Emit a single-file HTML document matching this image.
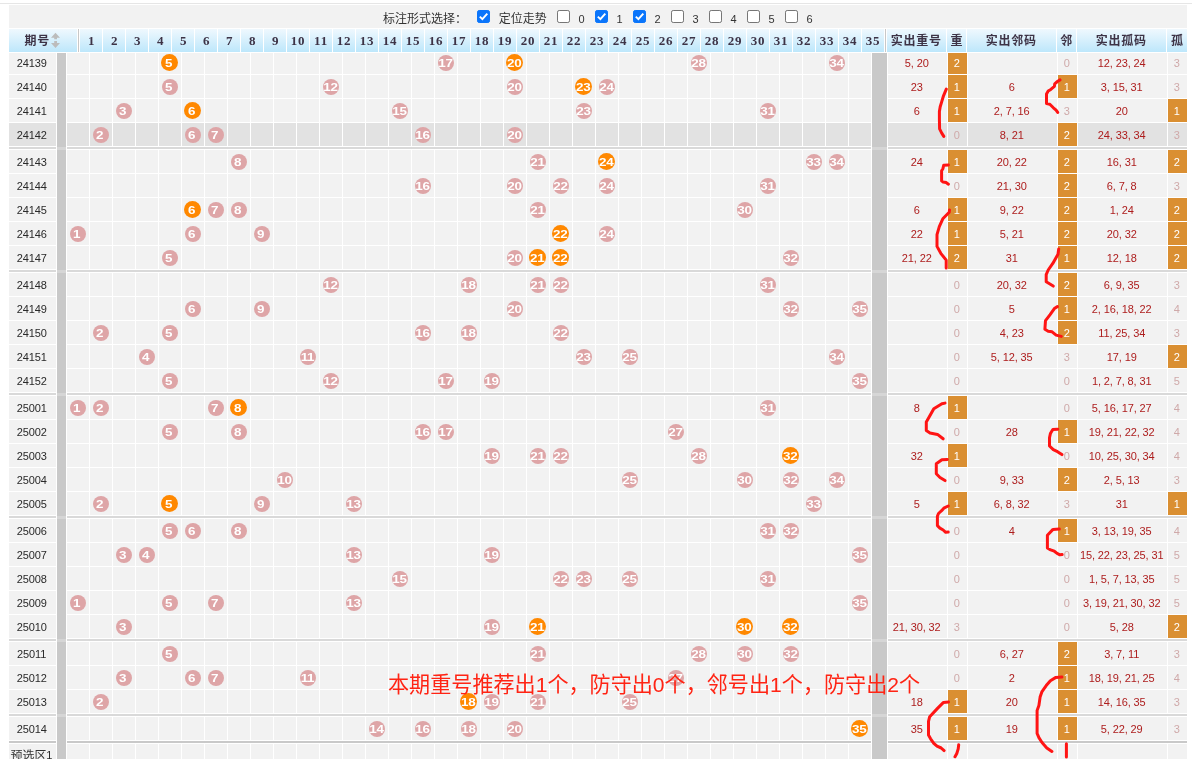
<!DOCTYPE html>
<html><head><meta charset="utf-8"><title>trend</title>
<style>
html,body{margin:0;padding:0;background:#fff;}
body{width:1192px;height:760px;overflow:hidden;position:relative;font-family:"Liberation Sans",sans-serif;}
#w{position:absolute;left:0;top:0;width:1192px;height:760px;overflow:hidden;will-change:transform;}
#w div,#w svg,#w span{position:absolute;}
.c{background:#f2f2f2;height:23px;}
.h .c{background:#e2e2e2;}
.r{left:0;width:1192px;height:23px;}
.t{font-size:11px;line-height:25px;text-align:center;color:#2a2a2a;letter-spacing:-0.12px;white-space:nowrap;box-sizing:border-box;padding-right:1.6px;overflow:hidden;}
.t i{display:inline-block;width:5.9px;text-align:left;font-style:normal;}
.rd{color:#ad1d1d;}
.lt{color:#cfa9a9;}
.o{background:#da8f32 !important;color:#fff;}
.b{width:16px;height:16px;border-radius:50%;background:#dea5a7;color:#fff;font-weight:bold;font-size:11px;line-height:17.6px;text-align:center;top:4px;letter-spacing:-0.3px;}
.b b{display:block;transform:translateX(-0.6px) scaleX(1.22);}
.b.g b{transform:translateX(-0.3px) scaleX(1.22);}
.b.s b{transform:translateX(-1.4px) scaleX(1.22);}
.b.g.s b{transform:translateX(-0.9px) scaleX(1.22);}
.b.g{width:17px;height:17px;background:#ff8800;line-height:18.6px;top:3px;}
.hd{top:29px;height:23px;background:linear-gradient(#eff8fe,#bde7fb);}
.hn{font-family:"Liberation Serif",serif;font-weight:bold;font-size:13px;line-height:23px;text-align:center;color:#3d3346;letter-spacing:0.8px;}
.bar{background:#c9c9c9;}
.cb{width:11px;height:11px;border:1px solid #767676;border-radius:2.2px;background:#fff;top:10px;}
.cb.k{background:#0a75fb;border-color:#0a75fb;}
.lb{font-size:11px;color:#333;top:13px;line-height:12px;}
</style></head><body><div id="w">

<div style="left:0;top:3px;width:1192px;height:1px;background:#e6e6e6"></div>
<div style="left:9px;top:5px;width:1178px;height:23px;background:#f2f2f2"></div>
<svg style="left:0;top:0" width="1192" height="30" viewBox="0 0 1192 30"><text x="383" y="23.1" font-size="12" fill="#333" font-family="&quot;Liberation Sans&quot;, &quot;Noto Sans CJK SC&quot;, sans-serif">标注形式选择：</text><text x="498.8" y="23.1" font-size="12" fill="#333" font-family="&quot;Liberation Sans&quot;, &quot;Noto Sans CJK SC&quot;, sans-serif">定位走势</text></svg>
<div class="cb k" style="left:477px"><svg style="left:0;top:0" width="11" height="11" viewBox="0 0 11 11"><path d="M1.8 5.6 L4.4 8.2 L9.3 2.6" fill="none" stroke="#fff" stroke-width="1.9"/></svg></div>
<div class="cb" style="left:557px"></div>
<span class="lb" style="left:578.5px">0</span>
<div class="cb k" style="left:595px"><svg style="left:0;top:0" width="11" height="11" viewBox="0 0 11 11"><path d="M1.8 5.6 L4.4 8.2 L9.3 2.6" fill="none" stroke="#fff" stroke-width="1.9"/></svg></div>
<span class="lb" style="left:616.5px">1</span>
<div class="cb k" style="left:633px"><svg style="left:0;top:0" width="11" height="11" viewBox="0 0 11 11"><path d="M1.8 5.6 L4.4 8.2 L9.3 2.6" fill="none" stroke="#fff" stroke-width="1.9"/></svg></div>
<span class="lb" style="left:654.5px">2</span>
<div class="cb" style="left:671px"></div>
<span class="lb" style="left:692.5px">3</span>
<div class="cb" style="left:709px"></div>
<span class="lb" style="left:730.5px">4</span>
<div class="cb" style="left:747px"></div>
<span class="lb" style="left:768.5px">5</span>
<div class="cb" style="left:785px"></div>
<span class="lb" style="left:806.5px">6</span>
<div class="bar" style="left:57px;top:53px;width:9px;height:707px"></div>
<div class="bar" style="left:872px;top:53px;width:15px;height:707px"></div>
<div style="left:9px;top:147px;width:47px;height:2px;background:#d9d9d9"></div>
<div style="left:67px;top:147px;width:804px;height:2px;background:#d9d9d9"></div>
<div style="left:888px;top:147px;width:299px;height:2px;background:#d9d9d9"></div>
<div style="left:57px;top:147px;width:9px;height:3px;background:#d6d6d6"></div>
<div style="left:872px;top:147px;width:15px;height:3px;background:#d6d6d6"></div>
<div style="left:9px;top:270px;width:47px;height:2px;background:#d9d9d9"></div>
<div style="left:67px;top:270px;width:804px;height:2px;background:#d9d9d9"></div>
<div style="left:888px;top:270px;width:299px;height:2px;background:#d9d9d9"></div>
<div style="left:57px;top:270px;width:9px;height:3px;background:#d6d6d6"></div>
<div style="left:872px;top:270px;width:15px;height:3px;background:#d6d6d6"></div>
<div style="left:9px;top:393px;width:47px;height:2px;background:#d9d9d9"></div>
<div style="left:67px;top:393px;width:804px;height:2px;background:#d9d9d9"></div>
<div style="left:888px;top:393px;width:299px;height:2px;background:#d9d9d9"></div>
<div style="left:57px;top:393px;width:9px;height:3px;background:#d6d6d6"></div>
<div style="left:872px;top:393px;width:15px;height:3px;background:#d6d6d6"></div>
<div style="left:9px;top:516px;width:47px;height:2px;background:#d9d9d9"></div>
<div style="left:67px;top:516px;width:804px;height:2px;background:#d9d9d9"></div>
<div style="left:888px;top:516px;width:299px;height:2px;background:#d9d9d9"></div>
<div style="left:57px;top:516px;width:9px;height:3px;background:#d6d6d6"></div>
<div style="left:872px;top:516px;width:15px;height:3px;background:#d6d6d6"></div>
<div style="left:9px;top:639px;width:47px;height:2px;background:#d9d9d9"></div>
<div style="left:67px;top:639px;width:804px;height:2px;background:#d9d9d9"></div>
<div style="left:888px;top:639px;width:299px;height:2px;background:#d9d9d9"></div>
<div style="left:57px;top:639px;width:9px;height:3px;background:#d6d6d6"></div>
<div style="left:872px;top:639px;width:15px;height:3px;background:#d6d6d6"></div>
<div style="left:9px;top:714px;width:47px;height:2px;background:#d9d9d9"></div>
<div style="left:67px;top:714px;width:804px;height:2px;background:#d9d9d9"></div>
<div style="left:888px;top:714px;width:299px;height:2px;background:#d9d9d9"></div>
<div style="left:57px;top:714px;width:9px;height:3px;background:#d6d6d6"></div>
<div style="left:872px;top:714px;width:15px;height:3px;background:#d6d6d6"></div>
<div style="left:9px;top:741px;width:47px;height:2px;background:#c9c9c9"></div>
<div style="left:67px;top:741px;width:804px;height:2px;background:#c9c9c9"></div>
<div style="left:888px;top:741px;width:299px;height:2px;background:#c9c9c9"></div>
<div class="r" style="top:51px">
<div class="c t" style="left:9px;width:47px">24139</div>
<div class="c" style="left:67px;width:22px"></div>
<div class="c" style="left:90px;width:22px"></div>
<div class="c" style="left:113px;width:22px"></div>
<div class="c" style="left:136px;width:22px"></div>
<div class="c" style="left:159px;width:22px"><div class="b g s" style="left:2px"><b>5</b></div></div>
<div class="c" style="left:182px;width:22px"></div>
<div class="c" style="left:205px;width:22px"></div>
<div class="c" style="left:228px;width:22px"></div>
<div class="c" style="left:251px;width:22px"></div>
<div class="c" style="left:274px;width:22px"></div>
<div class="c" style="left:297px;width:22px"></div>
<div class="c" style="left:320px;width:22px"></div>
<div class="c" style="left:343px;width:22px"></div>
<div class="c" style="left:366px;width:22px"></div>
<div class="c" style="left:389px;width:22px"></div>
<div class="c" style="left:412px;width:22px"></div>
<div class="c" style="left:435px;width:22px"><div class="b" style="left:3px"><b>17</b></div></div>
<div class="c" style="left:458px;width:22px"></div>
<div class="c" style="left:481px;width:22px"></div>
<div class="c" style="left:504px;width:22px"><div class="b g" style="left:2px"><b>20</b></div></div>
<div class="c" style="left:527px;width:22px"></div>
<div class="c" style="left:550px;width:22px"></div>
<div class="c" style="left:573px;width:22px"></div>
<div class="c" style="left:596px;width:22px"></div>
<div class="c" style="left:619px;width:22px"></div>
<div class="c" style="left:642px;width:22px"></div>
<div class="c" style="left:665px;width:22px"></div>
<div class="c" style="left:688px;width:22px"><div class="b" style="left:3px"><b>28</b></div></div>
<div class="c" style="left:711px;width:22px"></div>
<div class="c" style="left:734px;width:22px"></div>
<div class="c" style="left:757px;width:22px"></div>
<div class="c" style="left:780px;width:22px"></div>
<div class="c" style="left:803px;width:22px"></div>
<div class="c" style="left:826px;width:22px"><div class="b" style="left:3px"><b>34</b></div></div>
<div class="c" style="left:849px;width:22px"></div>
<div class="c t rd" style="left:888px;width:59px">5<i>,</i>20</div>
<div class="c t o" style="left:948px;width:19px">2</div>
<div class="c t rd" style="left:968px;width:89px"></div>
<div class="c t lt" style="left:1058px;width:19px">0</div>
<div class="c t rd" style="left:1078px;width:89px">12<i>,</i>23<i>,</i>24</div>
<div class="c t lt" style="left:1168px;width:19px">3</div>
</div>
<div class="r" style="top:75px">
<div class="c t" style="left:9px;width:47px">24140</div>
<div class="c" style="left:67px;width:22px"></div>
<div class="c" style="left:90px;width:22px"></div>
<div class="c" style="left:113px;width:22px"></div>
<div class="c" style="left:136px;width:22px"></div>
<div class="c" style="left:159px;width:22px"><div class="b s" style="left:3px"><b>5</b></div></div>
<div class="c" style="left:182px;width:22px"></div>
<div class="c" style="left:205px;width:22px"></div>
<div class="c" style="left:228px;width:22px"></div>
<div class="c" style="left:251px;width:22px"></div>
<div class="c" style="left:274px;width:22px"></div>
<div class="c" style="left:297px;width:22px"></div>
<div class="c" style="left:320px;width:22px"><div class="b" style="left:3px"><b>12</b></div></div>
<div class="c" style="left:343px;width:22px"></div>
<div class="c" style="left:366px;width:22px"></div>
<div class="c" style="left:389px;width:22px"></div>
<div class="c" style="left:412px;width:22px"></div>
<div class="c" style="left:435px;width:22px"></div>
<div class="c" style="left:458px;width:22px"></div>
<div class="c" style="left:481px;width:22px"></div>
<div class="c" style="left:504px;width:22px"><div class="b" style="left:3px"><b>20</b></div></div>
<div class="c" style="left:527px;width:22px"></div>
<div class="c" style="left:550px;width:22px"></div>
<div class="c" style="left:573px;width:22px"><div class="b g" style="left:2px"><b>23</b></div></div>
<div class="c" style="left:596px;width:22px"><div class="b" style="left:3px"><b>24</b></div></div>
<div class="c" style="left:619px;width:22px"></div>
<div class="c" style="left:642px;width:22px"></div>
<div class="c" style="left:665px;width:22px"></div>
<div class="c" style="left:688px;width:22px"></div>
<div class="c" style="left:711px;width:22px"></div>
<div class="c" style="left:734px;width:22px"></div>
<div class="c" style="left:757px;width:22px"></div>
<div class="c" style="left:780px;width:22px"></div>
<div class="c" style="left:803px;width:22px"></div>
<div class="c" style="left:826px;width:22px"></div>
<div class="c" style="left:849px;width:22px"></div>
<div class="c t rd" style="left:888px;width:59px">23</div>
<div class="c t o" style="left:948px;width:19px">1</div>
<div class="c t rd" style="left:968px;width:89px">6</div>
<div class="c t o" style="left:1058px;width:19px">1</div>
<div class="c t rd" style="left:1078px;width:89px">3<i>,</i>15<i>,</i>31</div>
<div class="c t lt" style="left:1168px;width:19px">3</div>
</div>
<div class="r" style="top:99px">
<div class="c t" style="left:9px;width:47px">24141</div>
<div class="c" style="left:67px;width:22px"></div>
<div class="c" style="left:90px;width:22px"></div>
<div class="c" style="left:113px;width:22px"><div class="b s" style="left:3px"><b>3</b></div></div>
<div class="c" style="left:136px;width:22px"></div>
<div class="c" style="left:159px;width:22px"></div>
<div class="c" style="left:182px;width:22px"><div class="b g s" style="left:2px"><b>6</b></div></div>
<div class="c" style="left:205px;width:22px"></div>
<div class="c" style="left:228px;width:22px"></div>
<div class="c" style="left:251px;width:22px"></div>
<div class="c" style="left:274px;width:22px"></div>
<div class="c" style="left:297px;width:22px"></div>
<div class="c" style="left:320px;width:22px"></div>
<div class="c" style="left:343px;width:22px"></div>
<div class="c" style="left:366px;width:22px"></div>
<div class="c" style="left:389px;width:22px"><div class="b" style="left:3px"><b>15</b></div></div>
<div class="c" style="left:412px;width:22px"></div>
<div class="c" style="left:435px;width:22px"></div>
<div class="c" style="left:458px;width:22px"></div>
<div class="c" style="left:481px;width:22px"></div>
<div class="c" style="left:504px;width:22px"></div>
<div class="c" style="left:527px;width:22px"></div>
<div class="c" style="left:550px;width:22px"></div>
<div class="c" style="left:573px;width:22px"><div class="b" style="left:3px"><b>23</b></div></div>
<div class="c" style="left:596px;width:22px"></div>
<div class="c" style="left:619px;width:22px"></div>
<div class="c" style="left:642px;width:22px"></div>
<div class="c" style="left:665px;width:22px"></div>
<div class="c" style="left:688px;width:22px"></div>
<div class="c" style="left:711px;width:22px"></div>
<div class="c" style="left:734px;width:22px"></div>
<div class="c" style="left:757px;width:22px"><div class="b" style="left:3px"><b>31</b></div></div>
<div class="c" style="left:780px;width:22px"></div>
<div class="c" style="left:803px;width:22px"></div>
<div class="c" style="left:826px;width:22px"></div>
<div class="c" style="left:849px;width:22px"></div>
<div class="c t rd" style="left:888px;width:59px">6</div>
<div class="c t o" style="left:948px;width:19px">1</div>
<div class="c t rd" style="left:968px;width:89px">2<i>,</i>7<i>,</i>16</div>
<div class="c t lt" style="left:1058px;width:19px">3</div>
<div class="c t rd" style="left:1078px;width:89px">20</div>
<div class="c t o" style="left:1168px;width:19px">1</div>
</div>
<div class="r h" style="top:123px">
<div class="c t" style="left:9px;width:47px">24142</div>
<div class="c" style="left:67px;width:22px"></div>
<div class="c" style="left:90px;width:22px"><div class="b s" style="left:3px"><b>2</b></div></div>
<div class="c" style="left:113px;width:22px"></div>
<div class="c" style="left:136px;width:22px"></div>
<div class="c" style="left:159px;width:22px"></div>
<div class="c" style="left:182px;width:22px"><div class="b s" style="left:3px"><b>6</b></div></div>
<div class="c" style="left:205px;width:22px"><div class="b s" style="left:3px"><b>7</b></div></div>
<div class="c" style="left:228px;width:22px"></div>
<div class="c" style="left:251px;width:22px"></div>
<div class="c" style="left:274px;width:22px"></div>
<div class="c" style="left:297px;width:22px"></div>
<div class="c" style="left:320px;width:22px"></div>
<div class="c" style="left:343px;width:22px"></div>
<div class="c" style="left:366px;width:22px"></div>
<div class="c" style="left:389px;width:22px"></div>
<div class="c" style="left:412px;width:22px"><div class="b" style="left:3px"><b>16</b></div></div>
<div class="c" style="left:435px;width:22px"></div>
<div class="c" style="left:458px;width:22px"></div>
<div class="c" style="left:481px;width:22px"></div>
<div class="c" style="left:504px;width:22px"><div class="b" style="left:3px"><b>20</b></div></div>
<div class="c" style="left:527px;width:22px"></div>
<div class="c" style="left:550px;width:22px"></div>
<div class="c" style="left:573px;width:22px"></div>
<div class="c" style="left:596px;width:22px"></div>
<div class="c" style="left:619px;width:22px"></div>
<div class="c" style="left:642px;width:22px"></div>
<div class="c" style="left:665px;width:22px"></div>
<div class="c" style="left:688px;width:22px"></div>
<div class="c" style="left:711px;width:22px"></div>
<div class="c" style="left:734px;width:22px"></div>
<div class="c" style="left:757px;width:22px"></div>
<div class="c" style="left:780px;width:22px"></div>
<div class="c" style="left:803px;width:22px"></div>
<div class="c" style="left:826px;width:22px"></div>
<div class="c" style="left:849px;width:22px"></div>
<div class="c t rd" style="left:888px;width:59px"></div>
<div class="c t lt" style="left:948px;width:19px">0</div>
<div class="c t rd" style="left:968px;width:89px">8<i>,</i>21</div>
<div class="c t o" style="left:1058px;width:19px">2</div>
<div class="c t rd" style="left:1078px;width:89px">24<i>,</i>33<i>,</i>34</div>
<div class="c t lt" style="left:1168px;width:19px">3</div>
</div>
<div class="r" style="top:150px">
<div class="c t" style="left:9px;width:47px">24143</div>
<div class="c" style="left:67px;width:22px"></div>
<div class="c" style="left:90px;width:22px"></div>
<div class="c" style="left:113px;width:22px"></div>
<div class="c" style="left:136px;width:22px"></div>
<div class="c" style="left:159px;width:22px"></div>
<div class="c" style="left:182px;width:22px"></div>
<div class="c" style="left:205px;width:22px"></div>
<div class="c" style="left:228px;width:22px"><div class="b s" style="left:3px"><b>8</b></div></div>
<div class="c" style="left:251px;width:22px"></div>
<div class="c" style="left:274px;width:22px"></div>
<div class="c" style="left:297px;width:22px"></div>
<div class="c" style="left:320px;width:22px"></div>
<div class="c" style="left:343px;width:22px"></div>
<div class="c" style="left:366px;width:22px"></div>
<div class="c" style="left:389px;width:22px"></div>
<div class="c" style="left:412px;width:22px"></div>
<div class="c" style="left:435px;width:22px"></div>
<div class="c" style="left:458px;width:22px"></div>
<div class="c" style="left:481px;width:22px"></div>
<div class="c" style="left:504px;width:22px"></div>
<div class="c" style="left:527px;width:22px"><div class="b" style="left:3px"><b>21</b></div></div>
<div class="c" style="left:550px;width:22px"></div>
<div class="c" style="left:573px;width:22px"></div>
<div class="c" style="left:596px;width:22px"><div class="b g" style="left:2px"><b>24</b></div></div>
<div class="c" style="left:619px;width:22px"></div>
<div class="c" style="left:642px;width:22px"></div>
<div class="c" style="left:665px;width:22px"></div>
<div class="c" style="left:688px;width:22px"></div>
<div class="c" style="left:711px;width:22px"></div>
<div class="c" style="left:734px;width:22px"></div>
<div class="c" style="left:757px;width:22px"></div>
<div class="c" style="left:780px;width:22px"></div>
<div class="c" style="left:803px;width:22px"><div class="b" style="left:3px"><b>33</b></div></div>
<div class="c" style="left:826px;width:22px"><div class="b" style="left:3px"><b>34</b></div></div>
<div class="c" style="left:849px;width:22px"></div>
<div class="c t rd" style="left:888px;width:59px">24</div>
<div class="c t o" style="left:948px;width:19px">1</div>
<div class="c t rd" style="left:968px;width:89px">20<i>,</i>22</div>
<div class="c t o" style="left:1058px;width:19px">2</div>
<div class="c t rd" style="left:1078px;width:89px">16<i>,</i>31</div>
<div class="c t o" style="left:1168px;width:19px">2</div>
</div>
<div class="r" style="top:174px">
<div class="c t" style="left:9px;width:47px">24144</div>
<div class="c" style="left:67px;width:22px"></div>
<div class="c" style="left:90px;width:22px"></div>
<div class="c" style="left:113px;width:22px"></div>
<div class="c" style="left:136px;width:22px"></div>
<div class="c" style="left:159px;width:22px"></div>
<div class="c" style="left:182px;width:22px"></div>
<div class="c" style="left:205px;width:22px"></div>
<div class="c" style="left:228px;width:22px"></div>
<div class="c" style="left:251px;width:22px"></div>
<div class="c" style="left:274px;width:22px"></div>
<div class="c" style="left:297px;width:22px"></div>
<div class="c" style="left:320px;width:22px"></div>
<div class="c" style="left:343px;width:22px"></div>
<div class="c" style="left:366px;width:22px"></div>
<div class="c" style="left:389px;width:22px"></div>
<div class="c" style="left:412px;width:22px"><div class="b" style="left:3px"><b>16</b></div></div>
<div class="c" style="left:435px;width:22px"></div>
<div class="c" style="left:458px;width:22px"></div>
<div class="c" style="left:481px;width:22px"></div>
<div class="c" style="left:504px;width:22px"><div class="b" style="left:3px"><b>20</b></div></div>
<div class="c" style="left:527px;width:22px"></div>
<div class="c" style="left:550px;width:22px"><div class="b" style="left:3px"><b>22</b></div></div>
<div class="c" style="left:573px;width:22px"></div>
<div class="c" style="left:596px;width:22px"><div class="b" style="left:3px"><b>24</b></div></div>
<div class="c" style="left:619px;width:22px"></div>
<div class="c" style="left:642px;width:22px"></div>
<div class="c" style="left:665px;width:22px"></div>
<div class="c" style="left:688px;width:22px"></div>
<div class="c" style="left:711px;width:22px"></div>
<div class="c" style="left:734px;width:22px"></div>
<div class="c" style="left:757px;width:22px"><div class="b" style="left:3px"><b>31</b></div></div>
<div class="c" style="left:780px;width:22px"></div>
<div class="c" style="left:803px;width:22px"></div>
<div class="c" style="left:826px;width:22px"></div>
<div class="c" style="left:849px;width:22px"></div>
<div class="c t rd" style="left:888px;width:59px"></div>
<div class="c t lt" style="left:948px;width:19px">0</div>
<div class="c t rd" style="left:968px;width:89px">21<i>,</i>30</div>
<div class="c t o" style="left:1058px;width:19px">2</div>
<div class="c t rd" style="left:1078px;width:89px">6<i>,</i>7<i>,</i>8</div>
<div class="c t lt" style="left:1168px;width:19px">3</div>
</div>
<div class="r" style="top:198px">
<div class="c t" style="left:9px;width:47px">24145</div>
<div class="c" style="left:67px;width:22px"></div>
<div class="c" style="left:90px;width:22px"></div>
<div class="c" style="left:113px;width:22px"></div>
<div class="c" style="left:136px;width:22px"></div>
<div class="c" style="left:159px;width:22px"></div>
<div class="c" style="left:182px;width:22px"><div class="b g s" style="left:2px"><b>6</b></div></div>
<div class="c" style="left:205px;width:22px"><div class="b s" style="left:3px"><b>7</b></div></div>
<div class="c" style="left:228px;width:22px"><div class="b s" style="left:3px"><b>8</b></div></div>
<div class="c" style="left:251px;width:22px"></div>
<div class="c" style="left:274px;width:22px"></div>
<div class="c" style="left:297px;width:22px"></div>
<div class="c" style="left:320px;width:22px"></div>
<div class="c" style="left:343px;width:22px"></div>
<div class="c" style="left:366px;width:22px"></div>
<div class="c" style="left:389px;width:22px"></div>
<div class="c" style="left:412px;width:22px"></div>
<div class="c" style="left:435px;width:22px"></div>
<div class="c" style="left:458px;width:22px"></div>
<div class="c" style="left:481px;width:22px"></div>
<div class="c" style="left:504px;width:22px"></div>
<div class="c" style="left:527px;width:22px"><div class="b" style="left:3px"><b>21</b></div></div>
<div class="c" style="left:550px;width:22px"></div>
<div class="c" style="left:573px;width:22px"></div>
<div class="c" style="left:596px;width:22px"></div>
<div class="c" style="left:619px;width:22px"></div>
<div class="c" style="left:642px;width:22px"></div>
<div class="c" style="left:665px;width:22px"></div>
<div class="c" style="left:688px;width:22px"></div>
<div class="c" style="left:711px;width:22px"></div>
<div class="c" style="left:734px;width:22px"><div class="b" style="left:3px"><b>30</b></div></div>
<div class="c" style="left:757px;width:22px"></div>
<div class="c" style="left:780px;width:22px"></div>
<div class="c" style="left:803px;width:22px"></div>
<div class="c" style="left:826px;width:22px"></div>
<div class="c" style="left:849px;width:22px"></div>
<div class="c t rd" style="left:888px;width:59px">6</div>
<div class="c t o" style="left:948px;width:19px">1</div>
<div class="c t rd" style="left:968px;width:89px">9<i>,</i>22</div>
<div class="c t o" style="left:1058px;width:19px">2</div>
<div class="c t rd" style="left:1078px;width:89px">1<i>,</i>24</div>
<div class="c t o" style="left:1168px;width:19px">2</div>
</div>
<div class="r" style="top:222px">
<div class="c t" style="left:9px;width:47px">24146</div>
<div class="c" style="left:67px;width:22px"><div class="b s" style="left:3px"><b>1</b></div></div>
<div class="c" style="left:90px;width:22px"></div>
<div class="c" style="left:113px;width:22px"></div>
<div class="c" style="left:136px;width:22px"></div>
<div class="c" style="left:159px;width:22px"></div>
<div class="c" style="left:182px;width:22px"><div class="b s" style="left:3px"><b>6</b></div></div>
<div class="c" style="left:205px;width:22px"></div>
<div class="c" style="left:228px;width:22px"></div>
<div class="c" style="left:251px;width:22px"><div class="b s" style="left:3px"><b>9</b></div></div>
<div class="c" style="left:274px;width:22px"></div>
<div class="c" style="left:297px;width:22px"></div>
<div class="c" style="left:320px;width:22px"></div>
<div class="c" style="left:343px;width:22px"></div>
<div class="c" style="left:366px;width:22px"></div>
<div class="c" style="left:389px;width:22px"></div>
<div class="c" style="left:412px;width:22px"></div>
<div class="c" style="left:435px;width:22px"></div>
<div class="c" style="left:458px;width:22px"></div>
<div class="c" style="left:481px;width:22px"></div>
<div class="c" style="left:504px;width:22px"></div>
<div class="c" style="left:527px;width:22px"></div>
<div class="c" style="left:550px;width:22px"><div class="b g" style="left:2px"><b>22</b></div></div>
<div class="c" style="left:573px;width:22px"></div>
<div class="c" style="left:596px;width:22px"><div class="b" style="left:3px"><b>24</b></div></div>
<div class="c" style="left:619px;width:22px"></div>
<div class="c" style="left:642px;width:22px"></div>
<div class="c" style="left:665px;width:22px"></div>
<div class="c" style="left:688px;width:22px"></div>
<div class="c" style="left:711px;width:22px"></div>
<div class="c" style="left:734px;width:22px"></div>
<div class="c" style="left:757px;width:22px"></div>
<div class="c" style="left:780px;width:22px"></div>
<div class="c" style="left:803px;width:22px"></div>
<div class="c" style="left:826px;width:22px"></div>
<div class="c" style="left:849px;width:22px"></div>
<div class="c t rd" style="left:888px;width:59px">22</div>
<div class="c t o" style="left:948px;width:19px">1</div>
<div class="c t rd" style="left:968px;width:89px">5<i>,</i>21</div>
<div class="c t o" style="left:1058px;width:19px">2</div>
<div class="c t rd" style="left:1078px;width:89px">20<i>,</i>32</div>
<div class="c t o" style="left:1168px;width:19px">2</div>
</div>
<div class="r" style="top:246px">
<div class="c t" style="left:9px;width:47px">24147</div>
<div class="c" style="left:67px;width:22px"></div>
<div class="c" style="left:90px;width:22px"></div>
<div class="c" style="left:113px;width:22px"></div>
<div class="c" style="left:136px;width:22px"></div>
<div class="c" style="left:159px;width:22px"><div class="b s" style="left:3px"><b>5</b></div></div>
<div class="c" style="left:182px;width:22px"></div>
<div class="c" style="left:205px;width:22px"></div>
<div class="c" style="left:228px;width:22px"></div>
<div class="c" style="left:251px;width:22px"></div>
<div class="c" style="left:274px;width:22px"></div>
<div class="c" style="left:297px;width:22px"></div>
<div class="c" style="left:320px;width:22px"></div>
<div class="c" style="left:343px;width:22px"></div>
<div class="c" style="left:366px;width:22px"></div>
<div class="c" style="left:389px;width:22px"></div>
<div class="c" style="left:412px;width:22px"></div>
<div class="c" style="left:435px;width:22px"></div>
<div class="c" style="left:458px;width:22px"></div>
<div class="c" style="left:481px;width:22px"></div>
<div class="c" style="left:504px;width:22px"><div class="b" style="left:3px"><b>20</b></div></div>
<div class="c" style="left:527px;width:22px"><div class="b g" style="left:2px"><b>21</b></div></div>
<div class="c" style="left:550px;width:22px"><div class="b g" style="left:2px"><b>22</b></div></div>
<div class="c" style="left:573px;width:22px"></div>
<div class="c" style="left:596px;width:22px"></div>
<div class="c" style="left:619px;width:22px"></div>
<div class="c" style="left:642px;width:22px"></div>
<div class="c" style="left:665px;width:22px"></div>
<div class="c" style="left:688px;width:22px"></div>
<div class="c" style="left:711px;width:22px"></div>
<div class="c" style="left:734px;width:22px"></div>
<div class="c" style="left:757px;width:22px"></div>
<div class="c" style="left:780px;width:22px"><div class="b" style="left:3px"><b>32</b></div></div>
<div class="c" style="left:803px;width:22px"></div>
<div class="c" style="left:826px;width:22px"></div>
<div class="c" style="left:849px;width:22px"></div>
<div class="c t rd" style="left:888px;width:59px">21<i>,</i>22</div>
<div class="c t o" style="left:948px;width:19px">2</div>
<div class="c t rd" style="left:968px;width:89px">31</div>
<div class="c t o" style="left:1058px;width:19px">1</div>
<div class="c t rd" style="left:1078px;width:89px">12<i>,</i>18</div>
<div class="c t o" style="left:1168px;width:19px">2</div>
</div>
<div class="r" style="top:273px">
<div class="c t" style="left:9px;width:47px">24148</div>
<div class="c" style="left:67px;width:22px"></div>
<div class="c" style="left:90px;width:22px"></div>
<div class="c" style="left:113px;width:22px"></div>
<div class="c" style="left:136px;width:22px"></div>
<div class="c" style="left:159px;width:22px"></div>
<div class="c" style="left:182px;width:22px"></div>
<div class="c" style="left:205px;width:22px"></div>
<div class="c" style="left:228px;width:22px"></div>
<div class="c" style="left:251px;width:22px"></div>
<div class="c" style="left:274px;width:22px"></div>
<div class="c" style="left:297px;width:22px"></div>
<div class="c" style="left:320px;width:22px"><div class="b" style="left:3px"><b>12</b></div></div>
<div class="c" style="left:343px;width:22px"></div>
<div class="c" style="left:366px;width:22px"></div>
<div class="c" style="left:389px;width:22px"></div>
<div class="c" style="left:412px;width:22px"></div>
<div class="c" style="left:435px;width:22px"></div>
<div class="c" style="left:458px;width:22px"><div class="b" style="left:3px"><b>18</b></div></div>
<div class="c" style="left:481px;width:22px"></div>
<div class="c" style="left:504px;width:22px"></div>
<div class="c" style="left:527px;width:22px"><div class="b" style="left:3px"><b>21</b></div></div>
<div class="c" style="left:550px;width:22px"><div class="b" style="left:3px"><b>22</b></div></div>
<div class="c" style="left:573px;width:22px"></div>
<div class="c" style="left:596px;width:22px"></div>
<div class="c" style="left:619px;width:22px"></div>
<div class="c" style="left:642px;width:22px"></div>
<div class="c" style="left:665px;width:22px"></div>
<div class="c" style="left:688px;width:22px"></div>
<div class="c" style="left:711px;width:22px"></div>
<div class="c" style="left:734px;width:22px"></div>
<div class="c" style="left:757px;width:22px"><div class="b" style="left:3px"><b>31</b></div></div>
<div class="c" style="left:780px;width:22px"></div>
<div class="c" style="left:803px;width:22px"></div>
<div class="c" style="left:826px;width:22px"></div>
<div class="c" style="left:849px;width:22px"></div>
<div class="c t rd" style="left:888px;width:59px"></div>
<div class="c t lt" style="left:948px;width:19px">0</div>
<div class="c t rd" style="left:968px;width:89px">20<i>,</i>32</div>
<div class="c t o" style="left:1058px;width:19px">2</div>
<div class="c t rd" style="left:1078px;width:89px">6<i>,</i>9<i>,</i>35</div>
<div class="c t lt" style="left:1168px;width:19px">3</div>
</div>
<div class="r" style="top:297px">
<div class="c t" style="left:9px;width:47px">24149</div>
<div class="c" style="left:67px;width:22px"></div>
<div class="c" style="left:90px;width:22px"></div>
<div class="c" style="left:113px;width:22px"></div>
<div class="c" style="left:136px;width:22px"></div>
<div class="c" style="left:159px;width:22px"></div>
<div class="c" style="left:182px;width:22px"><div class="b s" style="left:3px"><b>6</b></div></div>
<div class="c" style="left:205px;width:22px"></div>
<div class="c" style="left:228px;width:22px"></div>
<div class="c" style="left:251px;width:22px"><div class="b s" style="left:3px"><b>9</b></div></div>
<div class="c" style="left:274px;width:22px"></div>
<div class="c" style="left:297px;width:22px"></div>
<div class="c" style="left:320px;width:22px"></div>
<div class="c" style="left:343px;width:22px"></div>
<div class="c" style="left:366px;width:22px"></div>
<div class="c" style="left:389px;width:22px"></div>
<div class="c" style="left:412px;width:22px"></div>
<div class="c" style="left:435px;width:22px"></div>
<div class="c" style="left:458px;width:22px"></div>
<div class="c" style="left:481px;width:22px"></div>
<div class="c" style="left:504px;width:22px"><div class="b" style="left:3px"><b>20</b></div></div>
<div class="c" style="left:527px;width:22px"></div>
<div class="c" style="left:550px;width:22px"></div>
<div class="c" style="left:573px;width:22px"></div>
<div class="c" style="left:596px;width:22px"></div>
<div class="c" style="left:619px;width:22px"></div>
<div class="c" style="left:642px;width:22px"></div>
<div class="c" style="left:665px;width:22px"></div>
<div class="c" style="left:688px;width:22px"></div>
<div class="c" style="left:711px;width:22px"></div>
<div class="c" style="left:734px;width:22px"></div>
<div class="c" style="left:757px;width:22px"></div>
<div class="c" style="left:780px;width:22px"><div class="b" style="left:3px"><b>32</b></div></div>
<div class="c" style="left:803px;width:22px"></div>
<div class="c" style="left:826px;width:22px"></div>
<div class="c" style="left:849px;width:22px"><div class="b" style="left:3px"><b>35</b></div></div>
<div class="c t rd" style="left:888px;width:59px"></div>
<div class="c t lt" style="left:948px;width:19px">0</div>
<div class="c t rd" style="left:968px;width:89px">5</div>
<div class="c t o" style="left:1058px;width:19px">1</div>
<div class="c t rd" style="left:1078px;width:89px">2<i>,</i>16<i>,</i>18<i>,</i>22</div>
<div class="c t lt" style="left:1168px;width:19px">4</div>
</div>
<div class="r" style="top:321px">
<div class="c t" style="left:9px;width:47px">24150</div>
<div class="c" style="left:67px;width:22px"></div>
<div class="c" style="left:90px;width:22px"><div class="b s" style="left:3px"><b>2</b></div></div>
<div class="c" style="left:113px;width:22px"></div>
<div class="c" style="left:136px;width:22px"></div>
<div class="c" style="left:159px;width:22px"><div class="b s" style="left:3px"><b>5</b></div></div>
<div class="c" style="left:182px;width:22px"></div>
<div class="c" style="left:205px;width:22px"></div>
<div class="c" style="left:228px;width:22px"></div>
<div class="c" style="left:251px;width:22px"></div>
<div class="c" style="left:274px;width:22px"></div>
<div class="c" style="left:297px;width:22px"></div>
<div class="c" style="left:320px;width:22px"></div>
<div class="c" style="left:343px;width:22px"></div>
<div class="c" style="left:366px;width:22px"></div>
<div class="c" style="left:389px;width:22px"></div>
<div class="c" style="left:412px;width:22px"><div class="b" style="left:3px"><b>16</b></div></div>
<div class="c" style="left:435px;width:22px"></div>
<div class="c" style="left:458px;width:22px"><div class="b" style="left:3px"><b>18</b></div></div>
<div class="c" style="left:481px;width:22px"></div>
<div class="c" style="left:504px;width:22px"></div>
<div class="c" style="left:527px;width:22px"></div>
<div class="c" style="left:550px;width:22px"><div class="b" style="left:3px"><b>22</b></div></div>
<div class="c" style="left:573px;width:22px"></div>
<div class="c" style="left:596px;width:22px"></div>
<div class="c" style="left:619px;width:22px"></div>
<div class="c" style="left:642px;width:22px"></div>
<div class="c" style="left:665px;width:22px"></div>
<div class="c" style="left:688px;width:22px"></div>
<div class="c" style="left:711px;width:22px"></div>
<div class="c" style="left:734px;width:22px"></div>
<div class="c" style="left:757px;width:22px"></div>
<div class="c" style="left:780px;width:22px"></div>
<div class="c" style="left:803px;width:22px"></div>
<div class="c" style="left:826px;width:22px"></div>
<div class="c" style="left:849px;width:22px"></div>
<div class="c t rd" style="left:888px;width:59px"></div>
<div class="c t lt" style="left:948px;width:19px">0</div>
<div class="c t rd" style="left:968px;width:89px">4<i>,</i>23</div>
<div class="c t o" style="left:1058px;width:19px">2</div>
<div class="c t rd" style="left:1078px;width:89px">11<i>,</i>25<i>,</i>34</div>
<div class="c t lt" style="left:1168px;width:19px">3</div>
</div>
<div class="r" style="top:345px">
<div class="c t" style="left:9px;width:47px">24151</div>
<div class="c" style="left:67px;width:22px"></div>
<div class="c" style="left:90px;width:22px"></div>
<div class="c" style="left:113px;width:22px"></div>
<div class="c" style="left:136px;width:22px"><div class="b s" style="left:3px"><b>4</b></div></div>
<div class="c" style="left:159px;width:22px"></div>
<div class="c" style="left:182px;width:22px"></div>
<div class="c" style="left:205px;width:22px"></div>
<div class="c" style="left:228px;width:22px"></div>
<div class="c" style="left:251px;width:22px"></div>
<div class="c" style="left:274px;width:22px"></div>
<div class="c" style="left:297px;width:22px"><div class="b" style="left:3px"><b>11</b></div></div>
<div class="c" style="left:320px;width:22px"></div>
<div class="c" style="left:343px;width:22px"></div>
<div class="c" style="left:366px;width:22px"></div>
<div class="c" style="left:389px;width:22px"></div>
<div class="c" style="left:412px;width:22px"></div>
<div class="c" style="left:435px;width:22px"></div>
<div class="c" style="left:458px;width:22px"></div>
<div class="c" style="left:481px;width:22px"></div>
<div class="c" style="left:504px;width:22px"></div>
<div class="c" style="left:527px;width:22px"></div>
<div class="c" style="left:550px;width:22px"></div>
<div class="c" style="left:573px;width:22px"><div class="b" style="left:3px"><b>23</b></div></div>
<div class="c" style="left:596px;width:22px"></div>
<div class="c" style="left:619px;width:22px"><div class="b" style="left:3px"><b>25</b></div></div>
<div class="c" style="left:642px;width:22px"></div>
<div class="c" style="left:665px;width:22px"></div>
<div class="c" style="left:688px;width:22px"></div>
<div class="c" style="left:711px;width:22px"></div>
<div class="c" style="left:734px;width:22px"></div>
<div class="c" style="left:757px;width:22px"></div>
<div class="c" style="left:780px;width:22px"></div>
<div class="c" style="left:803px;width:22px"></div>
<div class="c" style="left:826px;width:22px"><div class="b" style="left:3px"><b>34</b></div></div>
<div class="c" style="left:849px;width:22px"></div>
<div class="c t rd" style="left:888px;width:59px"></div>
<div class="c t lt" style="left:948px;width:19px">0</div>
<div class="c t rd" style="left:968px;width:89px">5<i>,</i>12<i>,</i>35</div>
<div class="c t lt" style="left:1058px;width:19px">3</div>
<div class="c t rd" style="left:1078px;width:89px">17<i>,</i>19</div>
<div class="c t o" style="left:1168px;width:19px">2</div>
</div>
<div class="r" style="top:369px">
<div class="c t" style="left:9px;width:47px">24152</div>
<div class="c" style="left:67px;width:22px"></div>
<div class="c" style="left:90px;width:22px"></div>
<div class="c" style="left:113px;width:22px"></div>
<div class="c" style="left:136px;width:22px"></div>
<div class="c" style="left:159px;width:22px"><div class="b s" style="left:3px"><b>5</b></div></div>
<div class="c" style="left:182px;width:22px"></div>
<div class="c" style="left:205px;width:22px"></div>
<div class="c" style="left:228px;width:22px"></div>
<div class="c" style="left:251px;width:22px"></div>
<div class="c" style="left:274px;width:22px"></div>
<div class="c" style="left:297px;width:22px"></div>
<div class="c" style="left:320px;width:22px"><div class="b" style="left:3px"><b>12</b></div></div>
<div class="c" style="left:343px;width:22px"></div>
<div class="c" style="left:366px;width:22px"></div>
<div class="c" style="left:389px;width:22px"></div>
<div class="c" style="left:412px;width:22px"></div>
<div class="c" style="left:435px;width:22px"><div class="b" style="left:3px"><b>17</b></div></div>
<div class="c" style="left:458px;width:22px"></div>
<div class="c" style="left:481px;width:22px"><div class="b" style="left:3px"><b>19</b></div></div>
<div class="c" style="left:504px;width:22px"></div>
<div class="c" style="left:527px;width:22px"></div>
<div class="c" style="left:550px;width:22px"></div>
<div class="c" style="left:573px;width:22px"></div>
<div class="c" style="left:596px;width:22px"></div>
<div class="c" style="left:619px;width:22px"></div>
<div class="c" style="left:642px;width:22px"></div>
<div class="c" style="left:665px;width:22px"></div>
<div class="c" style="left:688px;width:22px"></div>
<div class="c" style="left:711px;width:22px"></div>
<div class="c" style="left:734px;width:22px"></div>
<div class="c" style="left:757px;width:22px"></div>
<div class="c" style="left:780px;width:22px"></div>
<div class="c" style="left:803px;width:22px"></div>
<div class="c" style="left:826px;width:22px"></div>
<div class="c" style="left:849px;width:22px"><div class="b" style="left:3px"><b>35</b></div></div>
<div class="c t rd" style="left:888px;width:59px"></div>
<div class="c t lt" style="left:948px;width:19px">0</div>
<div class="c t rd" style="left:968px;width:89px"></div>
<div class="c t lt" style="left:1058px;width:19px">0</div>
<div class="c t rd" style="left:1078px;width:89px">1<i>,</i>2<i>,</i>7<i>,</i>8<i>,</i>31</div>
<div class="c t lt" style="left:1168px;width:19px">5</div>
</div>
<div class="r" style="top:396px">
<div class="c t" style="left:9px;width:47px">25001</div>
<div class="c" style="left:67px;width:22px"><div class="b s" style="left:3px"><b>1</b></div></div>
<div class="c" style="left:90px;width:22px"><div class="b s" style="left:3px"><b>2</b></div></div>
<div class="c" style="left:113px;width:22px"></div>
<div class="c" style="left:136px;width:22px"></div>
<div class="c" style="left:159px;width:22px"></div>
<div class="c" style="left:182px;width:22px"></div>
<div class="c" style="left:205px;width:22px"><div class="b s" style="left:3px"><b>7</b></div></div>
<div class="c" style="left:228px;width:22px"><div class="b g s" style="left:2px"><b>8</b></div></div>
<div class="c" style="left:251px;width:22px"></div>
<div class="c" style="left:274px;width:22px"></div>
<div class="c" style="left:297px;width:22px"></div>
<div class="c" style="left:320px;width:22px"></div>
<div class="c" style="left:343px;width:22px"></div>
<div class="c" style="left:366px;width:22px"></div>
<div class="c" style="left:389px;width:22px"></div>
<div class="c" style="left:412px;width:22px"></div>
<div class="c" style="left:435px;width:22px"></div>
<div class="c" style="left:458px;width:22px"></div>
<div class="c" style="left:481px;width:22px"></div>
<div class="c" style="left:504px;width:22px"></div>
<div class="c" style="left:527px;width:22px"></div>
<div class="c" style="left:550px;width:22px"></div>
<div class="c" style="left:573px;width:22px"></div>
<div class="c" style="left:596px;width:22px"></div>
<div class="c" style="left:619px;width:22px"></div>
<div class="c" style="left:642px;width:22px"></div>
<div class="c" style="left:665px;width:22px"></div>
<div class="c" style="left:688px;width:22px"></div>
<div class="c" style="left:711px;width:22px"></div>
<div class="c" style="left:734px;width:22px"></div>
<div class="c" style="left:757px;width:22px"><div class="b" style="left:3px"><b>31</b></div></div>
<div class="c" style="left:780px;width:22px"></div>
<div class="c" style="left:803px;width:22px"></div>
<div class="c" style="left:826px;width:22px"></div>
<div class="c" style="left:849px;width:22px"></div>
<div class="c t rd" style="left:888px;width:59px">8</div>
<div class="c t o" style="left:948px;width:19px">1</div>
<div class="c t rd" style="left:968px;width:89px"></div>
<div class="c t lt" style="left:1058px;width:19px">0</div>
<div class="c t rd" style="left:1078px;width:89px">5<i>,</i>16<i>,</i>17<i>,</i>27</div>
<div class="c t lt" style="left:1168px;width:19px">4</div>
</div>
<div class="r" style="top:420px">
<div class="c t" style="left:9px;width:47px">25002</div>
<div class="c" style="left:67px;width:22px"></div>
<div class="c" style="left:90px;width:22px"></div>
<div class="c" style="left:113px;width:22px"></div>
<div class="c" style="left:136px;width:22px"></div>
<div class="c" style="left:159px;width:22px"><div class="b s" style="left:3px"><b>5</b></div></div>
<div class="c" style="left:182px;width:22px"></div>
<div class="c" style="left:205px;width:22px"></div>
<div class="c" style="left:228px;width:22px"><div class="b s" style="left:3px"><b>8</b></div></div>
<div class="c" style="left:251px;width:22px"></div>
<div class="c" style="left:274px;width:22px"></div>
<div class="c" style="left:297px;width:22px"></div>
<div class="c" style="left:320px;width:22px"></div>
<div class="c" style="left:343px;width:22px"></div>
<div class="c" style="left:366px;width:22px"></div>
<div class="c" style="left:389px;width:22px"></div>
<div class="c" style="left:412px;width:22px"><div class="b" style="left:3px"><b>16</b></div></div>
<div class="c" style="left:435px;width:22px"><div class="b" style="left:3px"><b>17</b></div></div>
<div class="c" style="left:458px;width:22px"></div>
<div class="c" style="left:481px;width:22px"></div>
<div class="c" style="left:504px;width:22px"></div>
<div class="c" style="left:527px;width:22px"></div>
<div class="c" style="left:550px;width:22px"></div>
<div class="c" style="left:573px;width:22px"></div>
<div class="c" style="left:596px;width:22px"></div>
<div class="c" style="left:619px;width:22px"></div>
<div class="c" style="left:642px;width:22px"></div>
<div class="c" style="left:665px;width:22px"><div class="b" style="left:3px"><b>27</b></div></div>
<div class="c" style="left:688px;width:22px"></div>
<div class="c" style="left:711px;width:22px"></div>
<div class="c" style="left:734px;width:22px"></div>
<div class="c" style="left:757px;width:22px"></div>
<div class="c" style="left:780px;width:22px"></div>
<div class="c" style="left:803px;width:22px"></div>
<div class="c" style="left:826px;width:22px"></div>
<div class="c" style="left:849px;width:22px"></div>
<div class="c t rd" style="left:888px;width:59px"></div>
<div class="c t lt" style="left:948px;width:19px">0</div>
<div class="c t rd" style="left:968px;width:89px">28</div>
<div class="c t o" style="left:1058px;width:19px">1</div>
<div class="c t rd" style="left:1078px;width:89px">19<i>,</i>21<i>,</i>22<i>,</i>32</div>
<div class="c t lt" style="left:1168px;width:19px">4</div>
</div>
<div class="r" style="top:444px">
<div class="c t" style="left:9px;width:47px">25003</div>
<div class="c" style="left:67px;width:22px"></div>
<div class="c" style="left:90px;width:22px"></div>
<div class="c" style="left:113px;width:22px"></div>
<div class="c" style="left:136px;width:22px"></div>
<div class="c" style="left:159px;width:22px"></div>
<div class="c" style="left:182px;width:22px"></div>
<div class="c" style="left:205px;width:22px"></div>
<div class="c" style="left:228px;width:22px"></div>
<div class="c" style="left:251px;width:22px"></div>
<div class="c" style="left:274px;width:22px"></div>
<div class="c" style="left:297px;width:22px"></div>
<div class="c" style="left:320px;width:22px"></div>
<div class="c" style="left:343px;width:22px"></div>
<div class="c" style="left:366px;width:22px"></div>
<div class="c" style="left:389px;width:22px"></div>
<div class="c" style="left:412px;width:22px"></div>
<div class="c" style="left:435px;width:22px"></div>
<div class="c" style="left:458px;width:22px"></div>
<div class="c" style="left:481px;width:22px"><div class="b" style="left:3px"><b>19</b></div></div>
<div class="c" style="left:504px;width:22px"></div>
<div class="c" style="left:527px;width:22px"><div class="b" style="left:3px"><b>21</b></div></div>
<div class="c" style="left:550px;width:22px"><div class="b" style="left:3px"><b>22</b></div></div>
<div class="c" style="left:573px;width:22px"></div>
<div class="c" style="left:596px;width:22px"></div>
<div class="c" style="left:619px;width:22px"></div>
<div class="c" style="left:642px;width:22px"></div>
<div class="c" style="left:665px;width:22px"></div>
<div class="c" style="left:688px;width:22px"><div class="b" style="left:3px"><b>28</b></div></div>
<div class="c" style="left:711px;width:22px"></div>
<div class="c" style="left:734px;width:22px"></div>
<div class="c" style="left:757px;width:22px"></div>
<div class="c" style="left:780px;width:22px"><div class="b g" style="left:2px"><b>32</b></div></div>
<div class="c" style="left:803px;width:22px"></div>
<div class="c" style="left:826px;width:22px"></div>
<div class="c" style="left:849px;width:22px"></div>
<div class="c t rd" style="left:888px;width:59px">32</div>
<div class="c t o" style="left:948px;width:19px">1</div>
<div class="c t rd" style="left:968px;width:89px"></div>
<div class="c t lt" style="left:1058px;width:19px">0</div>
<div class="c t rd" style="left:1078px;width:89px">10<i>,</i>25<i>,</i>30<i>,</i>34</div>
<div class="c t lt" style="left:1168px;width:19px">4</div>
</div>
<div class="r" style="top:468px">
<div class="c t" style="left:9px;width:47px">25004</div>
<div class="c" style="left:67px;width:22px"></div>
<div class="c" style="left:90px;width:22px"></div>
<div class="c" style="left:113px;width:22px"></div>
<div class="c" style="left:136px;width:22px"></div>
<div class="c" style="left:159px;width:22px"></div>
<div class="c" style="left:182px;width:22px"></div>
<div class="c" style="left:205px;width:22px"></div>
<div class="c" style="left:228px;width:22px"></div>
<div class="c" style="left:251px;width:22px"></div>
<div class="c" style="left:274px;width:22px"><div class="b" style="left:3px"><b>10</b></div></div>
<div class="c" style="left:297px;width:22px"></div>
<div class="c" style="left:320px;width:22px"></div>
<div class="c" style="left:343px;width:22px"></div>
<div class="c" style="left:366px;width:22px"></div>
<div class="c" style="left:389px;width:22px"></div>
<div class="c" style="left:412px;width:22px"></div>
<div class="c" style="left:435px;width:22px"></div>
<div class="c" style="left:458px;width:22px"></div>
<div class="c" style="left:481px;width:22px"></div>
<div class="c" style="left:504px;width:22px"></div>
<div class="c" style="left:527px;width:22px"></div>
<div class="c" style="left:550px;width:22px"></div>
<div class="c" style="left:573px;width:22px"></div>
<div class="c" style="left:596px;width:22px"></div>
<div class="c" style="left:619px;width:22px"><div class="b" style="left:3px"><b>25</b></div></div>
<div class="c" style="left:642px;width:22px"></div>
<div class="c" style="left:665px;width:22px"></div>
<div class="c" style="left:688px;width:22px"></div>
<div class="c" style="left:711px;width:22px"></div>
<div class="c" style="left:734px;width:22px"><div class="b" style="left:3px"><b>30</b></div></div>
<div class="c" style="left:757px;width:22px"></div>
<div class="c" style="left:780px;width:22px"><div class="b" style="left:3px"><b>32</b></div></div>
<div class="c" style="left:803px;width:22px"></div>
<div class="c" style="left:826px;width:22px"><div class="b" style="left:3px"><b>34</b></div></div>
<div class="c" style="left:849px;width:22px"></div>
<div class="c t rd" style="left:888px;width:59px"></div>
<div class="c t lt" style="left:948px;width:19px">0</div>
<div class="c t rd" style="left:968px;width:89px">9<i>,</i>33</div>
<div class="c t o" style="left:1058px;width:19px">2</div>
<div class="c t rd" style="left:1078px;width:89px">2<i>,</i>5<i>,</i>13</div>
<div class="c t lt" style="left:1168px;width:19px">3</div>
</div>
<div class="r" style="top:492px">
<div class="c t" style="left:9px;width:47px">25005</div>
<div class="c" style="left:67px;width:22px"></div>
<div class="c" style="left:90px;width:22px"><div class="b s" style="left:3px"><b>2</b></div></div>
<div class="c" style="left:113px;width:22px"></div>
<div class="c" style="left:136px;width:22px"></div>
<div class="c" style="left:159px;width:22px"><div class="b g s" style="left:2px"><b>5</b></div></div>
<div class="c" style="left:182px;width:22px"></div>
<div class="c" style="left:205px;width:22px"></div>
<div class="c" style="left:228px;width:22px"></div>
<div class="c" style="left:251px;width:22px"><div class="b s" style="left:3px"><b>9</b></div></div>
<div class="c" style="left:274px;width:22px"></div>
<div class="c" style="left:297px;width:22px"></div>
<div class="c" style="left:320px;width:22px"></div>
<div class="c" style="left:343px;width:22px"><div class="b" style="left:3px"><b>13</b></div></div>
<div class="c" style="left:366px;width:22px"></div>
<div class="c" style="left:389px;width:22px"></div>
<div class="c" style="left:412px;width:22px"></div>
<div class="c" style="left:435px;width:22px"></div>
<div class="c" style="left:458px;width:22px"></div>
<div class="c" style="left:481px;width:22px"></div>
<div class="c" style="left:504px;width:22px"></div>
<div class="c" style="left:527px;width:22px"></div>
<div class="c" style="left:550px;width:22px"></div>
<div class="c" style="left:573px;width:22px"></div>
<div class="c" style="left:596px;width:22px"></div>
<div class="c" style="left:619px;width:22px"></div>
<div class="c" style="left:642px;width:22px"></div>
<div class="c" style="left:665px;width:22px"></div>
<div class="c" style="left:688px;width:22px"></div>
<div class="c" style="left:711px;width:22px"></div>
<div class="c" style="left:734px;width:22px"></div>
<div class="c" style="left:757px;width:22px"></div>
<div class="c" style="left:780px;width:22px"></div>
<div class="c" style="left:803px;width:22px"><div class="b" style="left:3px"><b>33</b></div></div>
<div class="c" style="left:826px;width:22px"></div>
<div class="c" style="left:849px;width:22px"></div>
<div class="c t rd" style="left:888px;width:59px">5</div>
<div class="c t o" style="left:948px;width:19px">1</div>
<div class="c t rd" style="left:968px;width:89px">6<i>,</i>8<i>,</i>32</div>
<div class="c t lt" style="left:1058px;width:19px">3</div>
<div class="c t rd" style="left:1078px;width:89px">31</div>
<div class="c t o" style="left:1168px;width:19px">1</div>
</div>
<div class="r" style="top:519px">
<div class="c t" style="left:9px;width:47px">25006</div>
<div class="c" style="left:67px;width:22px"></div>
<div class="c" style="left:90px;width:22px"></div>
<div class="c" style="left:113px;width:22px"></div>
<div class="c" style="left:136px;width:22px"></div>
<div class="c" style="left:159px;width:22px"><div class="b s" style="left:3px"><b>5</b></div></div>
<div class="c" style="left:182px;width:22px"><div class="b s" style="left:3px"><b>6</b></div></div>
<div class="c" style="left:205px;width:22px"></div>
<div class="c" style="left:228px;width:22px"><div class="b s" style="left:3px"><b>8</b></div></div>
<div class="c" style="left:251px;width:22px"></div>
<div class="c" style="left:274px;width:22px"></div>
<div class="c" style="left:297px;width:22px"></div>
<div class="c" style="left:320px;width:22px"></div>
<div class="c" style="left:343px;width:22px"></div>
<div class="c" style="left:366px;width:22px"></div>
<div class="c" style="left:389px;width:22px"></div>
<div class="c" style="left:412px;width:22px"></div>
<div class="c" style="left:435px;width:22px"></div>
<div class="c" style="left:458px;width:22px"></div>
<div class="c" style="left:481px;width:22px"></div>
<div class="c" style="left:504px;width:22px"></div>
<div class="c" style="left:527px;width:22px"></div>
<div class="c" style="left:550px;width:22px"></div>
<div class="c" style="left:573px;width:22px"></div>
<div class="c" style="left:596px;width:22px"></div>
<div class="c" style="left:619px;width:22px"></div>
<div class="c" style="left:642px;width:22px"></div>
<div class="c" style="left:665px;width:22px"></div>
<div class="c" style="left:688px;width:22px"></div>
<div class="c" style="left:711px;width:22px"></div>
<div class="c" style="left:734px;width:22px"></div>
<div class="c" style="left:757px;width:22px"><div class="b" style="left:3px"><b>31</b></div></div>
<div class="c" style="left:780px;width:22px"><div class="b" style="left:3px"><b>32</b></div></div>
<div class="c" style="left:803px;width:22px"></div>
<div class="c" style="left:826px;width:22px"></div>
<div class="c" style="left:849px;width:22px"></div>
<div class="c t rd" style="left:888px;width:59px"></div>
<div class="c t lt" style="left:948px;width:19px">0</div>
<div class="c t rd" style="left:968px;width:89px">4</div>
<div class="c t o" style="left:1058px;width:19px">1</div>
<div class="c t rd" style="left:1078px;width:89px">3<i>,</i>13<i>,</i>19<i>,</i>35</div>
<div class="c t lt" style="left:1168px;width:19px">4</div>
</div>
<div class="r" style="top:543px">
<div class="c t" style="left:9px;width:47px">25007</div>
<div class="c" style="left:67px;width:22px"></div>
<div class="c" style="left:90px;width:22px"></div>
<div class="c" style="left:113px;width:22px"><div class="b s" style="left:3px"><b>3</b></div></div>
<div class="c" style="left:136px;width:22px"><div class="b s" style="left:3px"><b>4</b></div></div>
<div class="c" style="left:159px;width:22px"></div>
<div class="c" style="left:182px;width:22px"></div>
<div class="c" style="left:205px;width:22px"></div>
<div class="c" style="left:228px;width:22px"></div>
<div class="c" style="left:251px;width:22px"></div>
<div class="c" style="left:274px;width:22px"></div>
<div class="c" style="left:297px;width:22px"></div>
<div class="c" style="left:320px;width:22px"></div>
<div class="c" style="left:343px;width:22px"><div class="b" style="left:3px"><b>13</b></div></div>
<div class="c" style="left:366px;width:22px"></div>
<div class="c" style="left:389px;width:22px"></div>
<div class="c" style="left:412px;width:22px"></div>
<div class="c" style="left:435px;width:22px"></div>
<div class="c" style="left:458px;width:22px"></div>
<div class="c" style="left:481px;width:22px"><div class="b" style="left:3px"><b>19</b></div></div>
<div class="c" style="left:504px;width:22px"></div>
<div class="c" style="left:527px;width:22px"></div>
<div class="c" style="left:550px;width:22px"></div>
<div class="c" style="left:573px;width:22px"></div>
<div class="c" style="left:596px;width:22px"></div>
<div class="c" style="left:619px;width:22px"></div>
<div class="c" style="left:642px;width:22px"></div>
<div class="c" style="left:665px;width:22px"></div>
<div class="c" style="left:688px;width:22px"></div>
<div class="c" style="left:711px;width:22px"></div>
<div class="c" style="left:734px;width:22px"></div>
<div class="c" style="left:757px;width:22px"></div>
<div class="c" style="left:780px;width:22px"></div>
<div class="c" style="left:803px;width:22px"></div>
<div class="c" style="left:826px;width:22px"></div>
<div class="c" style="left:849px;width:22px"><div class="b" style="left:3px"><b>35</b></div></div>
<div class="c t rd" style="left:888px;width:59px"></div>
<div class="c t lt" style="left:948px;width:19px">0</div>
<div class="c t rd" style="left:968px;width:89px"></div>
<div class="c t lt" style="left:1058px;width:19px">0</div>
<div class="c t rd" style="left:1078px;width:89px">15<i>,</i>22<i>,</i>23<i>,</i>25<i>,</i>31</div>
<div class="c t lt" style="left:1168px;width:19px">5</div>
</div>
<div class="r" style="top:567px">
<div class="c t" style="left:9px;width:47px">25008</div>
<div class="c" style="left:67px;width:22px"></div>
<div class="c" style="left:90px;width:22px"></div>
<div class="c" style="left:113px;width:22px"></div>
<div class="c" style="left:136px;width:22px"></div>
<div class="c" style="left:159px;width:22px"></div>
<div class="c" style="left:182px;width:22px"></div>
<div class="c" style="left:205px;width:22px"></div>
<div class="c" style="left:228px;width:22px"></div>
<div class="c" style="left:251px;width:22px"></div>
<div class="c" style="left:274px;width:22px"></div>
<div class="c" style="left:297px;width:22px"></div>
<div class="c" style="left:320px;width:22px"></div>
<div class="c" style="left:343px;width:22px"></div>
<div class="c" style="left:366px;width:22px"></div>
<div class="c" style="left:389px;width:22px"><div class="b" style="left:3px"><b>15</b></div></div>
<div class="c" style="left:412px;width:22px"></div>
<div class="c" style="left:435px;width:22px"></div>
<div class="c" style="left:458px;width:22px"></div>
<div class="c" style="left:481px;width:22px"></div>
<div class="c" style="left:504px;width:22px"></div>
<div class="c" style="left:527px;width:22px"></div>
<div class="c" style="left:550px;width:22px"><div class="b" style="left:3px"><b>22</b></div></div>
<div class="c" style="left:573px;width:22px"><div class="b" style="left:3px"><b>23</b></div></div>
<div class="c" style="left:596px;width:22px"></div>
<div class="c" style="left:619px;width:22px"><div class="b" style="left:3px"><b>25</b></div></div>
<div class="c" style="left:642px;width:22px"></div>
<div class="c" style="left:665px;width:22px"></div>
<div class="c" style="left:688px;width:22px"></div>
<div class="c" style="left:711px;width:22px"></div>
<div class="c" style="left:734px;width:22px"></div>
<div class="c" style="left:757px;width:22px"><div class="b" style="left:3px"><b>31</b></div></div>
<div class="c" style="left:780px;width:22px"></div>
<div class="c" style="left:803px;width:22px"></div>
<div class="c" style="left:826px;width:22px"></div>
<div class="c" style="left:849px;width:22px"></div>
<div class="c t rd" style="left:888px;width:59px"></div>
<div class="c t lt" style="left:948px;width:19px">0</div>
<div class="c t rd" style="left:968px;width:89px"></div>
<div class="c t lt" style="left:1058px;width:19px">0</div>
<div class="c t rd" style="left:1078px;width:89px">1<i>,</i>5<i>,</i>7<i>,</i>13<i>,</i>35</div>
<div class="c t lt" style="left:1168px;width:19px">5</div>
</div>
<div class="r" style="top:591px">
<div class="c t" style="left:9px;width:47px">25009</div>
<div class="c" style="left:67px;width:22px"><div class="b s" style="left:3px"><b>1</b></div></div>
<div class="c" style="left:90px;width:22px"></div>
<div class="c" style="left:113px;width:22px"></div>
<div class="c" style="left:136px;width:22px"></div>
<div class="c" style="left:159px;width:22px"><div class="b s" style="left:3px"><b>5</b></div></div>
<div class="c" style="left:182px;width:22px"></div>
<div class="c" style="left:205px;width:22px"><div class="b s" style="left:3px"><b>7</b></div></div>
<div class="c" style="left:228px;width:22px"></div>
<div class="c" style="left:251px;width:22px"></div>
<div class="c" style="left:274px;width:22px"></div>
<div class="c" style="left:297px;width:22px"></div>
<div class="c" style="left:320px;width:22px"></div>
<div class="c" style="left:343px;width:22px"><div class="b" style="left:3px"><b>13</b></div></div>
<div class="c" style="left:366px;width:22px"></div>
<div class="c" style="left:389px;width:22px"></div>
<div class="c" style="left:412px;width:22px"></div>
<div class="c" style="left:435px;width:22px"></div>
<div class="c" style="left:458px;width:22px"></div>
<div class="c" style="left:481px;width:22px"></div>
<div class="c" style="left:504px;width:22px"></div>
<div class="c" style="left:527px;width:22px"></div>
<div class="c" style="left:550px;width:22px"></div>
<div class="c" style="left:573px;width:22px"></div>
<div class="c" style="left:596px;width:22px"></div>
<div class="c" style="left:619px;width:22px"></div>
<div class="c" style="left:642px;width:22px"></div>
<div class="c" style="left:665px;width:22px"></div>
<div class="c" style="left:688px;width:22px"></div>
<div class="c" style="left:711px;width:22px"></div>
<div class="c" style="left:734px;width:22px"></div>
<div class="c" style="left:757px;width:22px"></div>
<div class="c" style="left:780px;width:22px"></div>
<div class="c" style="left:803px;width:22px"></div>
<div class="c" style="left:826px;width:22px"></div>
<div class="c" style="left:849px;width:22px"><div class="b" style="left:3px"><b>35</b></div></div>
<div class="c t rd" style="left:888px;width:59px"></div>
<div class="c t lt" style="left:948px;width:19px">0</div>
<div class="c t rd" style="left:968px;width:89px"></div>
<div class="c t lt" style="left:1058px;width:19px">0</div>
<div class="c t rd" style="left:1078px;width:89px">3<i>,</i>19<i>,</i>21<i>,</i>30<i>,</i>32</div>
<div class="c t lt" style="left:1168px;width:19px">5</div>
</div>
<div class="r" style="top:615px">
<div class="c t" style="left:9px;width:47px">25010</div>
<div class="c" style="left:67px;width:22px"></div>
<div class="c" style="left:90px;width:22px"></div>
<div class="c" style="left:113px;width:22px"><div class="b s" style="left:3px"><b>3</b></div></div>
<div class="c" style="left:136px;width:22px"></div>
<div class="c" style="left:159px;width:22px"></div>
<div class="c" style="left:182px;width:22px"></div>
<div class="c" style="left:205px;width:22px"></div>
<div class="c" style="left:228px;width:22px"></div>
<div class="c" style="left:251px;width:22px"></div>
<div class="c" style="left:274px;width:22px"></div>
<div class="c" style="left:297px;width:22px"></div>
<div class="c" style="left:320px;width:22px"></div>
<div class="c" style="left:343px;width:22px"></div>
<div class="c" style="left:366px;width:22px"></div>
<div class="c" style="left:389px;width:22px"></div>
<div class="c" style="left:412px;width:22px"></div>
<div class="c" style="left:435px;width:22px"></div>
<div class="c" style="left:458px;width:22px"></div>
<div class="c" style="left:481px;width:22px"><div class="b" style="left:3px"><b>19</b></div></div>
<div class="c" style="left:504px;width:22px"></div>
<div class="c" style="left:527px;width:22px"><div class="b g" style="left:2px"><b>21</b></div></div>
<div class="c" style="left:550px;width:22px"></div>
<div class="c" style="left:573px;width:22px"></div>
<div class="c" style="left:596px;width:22px"></div>
<div class="c" style="left:619px;width:22px"></div>
<div class="c" style="left:642px;width:22px"></div>
<div class="c" style="left:665px;width:22px"></div>
<div class="c" style="left:688px;width:22px"></div>
<div class="c" style="left:711px;width:22px"></div>
<div class="c" style="left:734px;width:22px"><div class="b g" style="left:2px"><b>30</b></div></div>
<div class="c" style="left:757px;width:22px"></div>
<div class="c" style="left:780px;width:22px"><div class="b g" style="left:2px"><b>32</b></div></div>
<div class="c" style="left:803px;width:22px"></div>
<div class="c" style="left:826px;width:22px"></div>
<div class="c" style="left:849px;width:22px"></div>
<div class="c t rd" style="left:888px;width:59px">21<i>,</i>30<i>,</i>32</div>
<div class="c t lt" style="left:948px;width:19px">3</div>
<div class="c t rd" style="left:968px;width:89px"></div>
<div class="c t lt" style="left:1058px;width:19px">0</div>
<div class="c t rd" style="left:1078px;width:89px">5<i>,</i>28</div>
<div class="c t o" style="left:1168px;width:19px">2</div>
</div>
<div class="r" style="top:642px">
<div class="c t" style="left:9px;width:47px">25011</div>
<div class="c" style="left:67px;width:22px"></div>
<div class="c" style="left:90px;width:22px"></div>
<div class="c" style="left:113px;width:22px"></div>
<div class="c" style="left:136px;width:22px"></div>
<div class="c" style="left:159px;width:22px"><div class="b s" style="left:3px"><b>5</b></div></div>
<div class="c" style="left:182px;width:22px"></div>
<div class="c" style="left:205px;width:22px"></div>
<div class="c" style="left:228px;width:22px"></div>
<div class="c" style="left:251px;width:22px"></div>
<div class="c" style="left:274px;width:22px"></div>
<div class="c" style="left:297px;width:22px"></div>
<div class="c" style="left:320px;width:22px"></div>
<div class="c" style="left:343px;width:22px"></div>
<div class="c" style="left:366px;width:22px"></div>
<div class="c" style="left:389px;width:22px"></div>
<div class="c" style="left:412px;width:22px"></div>
<div class="c" style="left:435px;width:22px"></div>
<div class="c" style="left:458px;width:22px"></div>
<div class="c" style="left:481px;width:22px"></div>
<div class="c" style="left:504px;width:22px"></div>
<div class="c" style="left:527px;width:22px"><div class="b" style="left:3px"><b>21</b></div></div>
<div class="c" style="left:550px;width:22px"></div>
<div class="c" style="left:573px;width:22px"></div>
<div class="c" style="left:596px;width:22px"></div>
<div class="c" style="left:619px;width:22px"></div>
<div class="c" style="left:642px;width:22px"></div>
<div class="c" style="left:665px;width:22px"></div>
<div class="c" style="left:688px;width:22px"><div class="b" style="left:3px"><b>28</b></div></div>
<div class="c" style="left:711px;width:22px"></div>
<div class="c" style="left:734px;width:22px"><div class="b" style="left:3px"><b>30</b></div></div>
<div class="c" style="left:757px;width:22px"></div>
<div class="c" style="left:780px;width:22px"><div class="b" style="left:3px"><b>32</b></div></div>
<div class="c" style="left:803px;width:22px"></div>
<div class="c" style="left:826px;width:22px"></div>
<div class="c" style="left:849px;width:22px"></div>
<div class="c t rd" style="left:888px;width:59px"></div>
<div class="c t lt" style="left:948px;width:19px">0</div>
<div class="c t rd" style="left:968px;width:89px">6<i>,</i>27</div>
<div class="c t o" style="left:1058px;width:19px">2</div>
<div class="c t rd" style="left:1078px;width:89px">3<i>,</i>7<i>,</i>11</div>
<div class="c t lt" style="left:1168px;width:19px">3</div>
</div>
<div class="r" style="top:666px">
<div class="c t" style="left:9px;width:47px">25012</div>
<div class="c" style="left:67px;width:22px"></div>
<div class="c" style="left:90px;width:22px"></div>
<div class="c" style="left:113px;width:22px"><div class="b s" style="left:3px"><b>3</b></div></div>
<div class="c" style="left:136px;width:22px"></div>
<div class="c" style="left:159px;width:22px"></div>
<div class="c" style="left:182px;width:22px"><div class="b s" style="left:3px"><b>6</b></div></div>
<div class="c" style="left:205px;width:22px"><div class="b s" style="left:3px"><b>7</b></div></div>
<div class="c" style="left:228px;width:22px"></div>
<div class="c" style="left:251px;width:22px"></div>
<div class="c" style="left:274px;width:22px"></div>
<div class="c" style="left:297px;width:22px"><div class="b" style="left:3px"><b>11</b></div></div>
<div class="c" style="left:320px;width:22px"></div>
<div class="c" style="left:343px;width:22px"></div>
<div class="c" style="left:366px;width:22px"></div>
<div class="c" style="left:389px;width:22px"></div>
<div class="c" style="left:412px;width:22px"></div>
<div class="c" style="left:435px;width:22px"></div>
<div class="c" style="left:458px;width:22px"></div>
<div class="c" style="left:481px;width:22px"></div>
<div class="c" style="left:504px;width:22px"></div>
<div class="c" style="left:527px;width:22px"></div>
<div class="c" style="left:550px;width:22px"></div>
<div class="c" style="left:573px;width:22px"></div>
<div class="c" style="left:596px;width:22px"></div>
<div class="c" style="left:619px;width:22px"></div>
<div class="c" style="left:642px;width:22px"></div>
<div class="c" style="left:665px;width:22px"><div class="b" style="left:3px"><b>27</b></div></div>
<div class="c" style="left:688px;width:22px"></div>
<div class="c" style="left:711px;width:22px"></div>
<div class="c" style="left:734px;width:22px"></div>
<div class="c" style="left:757px;width:22px"></div>
<div class="c" style="left:780px;width:22px"></div>
<div class="c" style="left:803px;width:22px"></div>
<div class="c" style="left:826px;width:22px"></div>
<div class="c" style="left:849px;width:22px"></div>
<div class="c t rd" style="left:888px;width:59px"></div>
<div class="c t lt" style="left:948px;width:19px">0</div>
<div class="c t rd" style="left:968px;width:89px">2</div>
<div class="c t o" style="left:1058px;width:19px">1</div>
<div class="c t rd" style="left:1078px;width:89px">18<i>,</i>19<i>,</i>21<i>,</i>25</div>
<div class="c t lt" style="left:1168px;width:19px">4</div>
</div>
<div class="r" style="top:690px">
<div class="c t" style="left:9px;width:47px">25013</div>
<div class="c" style="left:67px;width:22px"></div>
<div class="c" style="left:90px;width:22px"><div class="b s" style="left:3px"><b>2</b></div></div>
<div class="c" style="left:113px;width:22px"></div>
<div class="c" style="left:136px;width:22px"></div>
<div class="c" style="left:159px;width:22px"></div>
<div class="c" style="left:182px;width:22px"></div>
<div class="c" style="left:205px;width:22px"></div>
<div class="c" style="left:228px;width:22px"></div>
<div class="c" style="left:251px;width:22px"></div>
<div class="c" style="left:274px;width:22px"></div>
<div class="c" style="left:297px;width:22px"></div>
<div class="c" style="left:320px;width:22px"></div>
<div class="c" style="left:343px;width:22px"></div>
<div class="c" style="left:366px;width:22px"></div>
<div class="c" style="left:389px;width:22px"></div>
<div class="c" style="left:412px;width:22px"></div>
<div class="c" style="left:435px;width:22px"></div>
<div class="c" style="left:458px;width:22px"><div class="b g" style="left:2px"><b>18</b></div></div>
<div class="c" style="left:481px;width:22px"><div class="b" style="left:3px"><b>19</b></div></div>
<div class="c" style="left:504px;width:22px"></div>
<div class="c" style="left:527px;width:22px"><div class="b" style="left:3px"><b>21</b></div></div>
<div class="c" style="left:550px;width:22px"></div>
<div class="c" style="left:573px;width:22px"></div>
<div class="c" style="left:596px;width:22px"></div>
<div class="c" style="left:619px;width:22px"><div class="b" style="left:3px"><b>25</b></div></div>
<div class="c" style="left:642px;width:22px"></div>
<div class="c" style="left:665px;width:22px"></div>
<div class="c" style="left:688px;width:22px"></div>
<div class="c" style="left:711px;width:22px"></div>
<div class="c" style="left:734px;width:22px"></div>
<div class="c" style="left:757px;width:22px"></div>
<div class="c" style="left:780px;width:22px"></div>
<div class="c" style="left:803px;width:22px"></div>
<div class="c" style="left:826px;width:22px"></div>
<div class="c" style="left:849px;width:22px"></div>
<div class="c t rd" style="left:888px;width:59px">18</div>
<div class="c t o" style="left:948px;width:19px">1</div>
<div class="c t rd" style="left:968px;width:89px">20</div>
<div class="c t o" style="left:1058px;width:19px">1</div>
<div class="c t rd" style="left:1078px;width:89px">14<i>,</i>16<i>,</i>35</div>
<div class="c t lt" style="left:1168px;width:19px">3</div>
</div>
<div class="r" style="top:717px">
<div class="c t" style="left:9px;width:47px">25014</div>
<div class="c" style="left:67px;width:22px"></div>
<div class="c" style="left:90px;width:22px"></div>
<div class="c" style="left:113px;width:22px"></div>
<div class="c" style="left:136px;width:22px"></div>
<div class="c" style="left:159px;width:22px"></div>
<div class="c" style="left:182px;width:22px"></div>
<div class="c" style="left:205px;width:22px"></div>
<div class="c" style="left:228px;width:22px"></div>
<div class="c" style="left:251px;width:22px"></div>
<div class="c" style="left:274px;width:22px"></div>
<div class="c" style="left:297px;width:22px"></div>
<div class="c" style="left:320px;width:22px"></div>
<div class="c" style="left:343px;width:22px"></div>
<div class="c" style="left:366px;width:22px"><div class="b" style="left:3px"><b>14</b></div></div>
<div class="c" style="left:389px;width:22px"></div>
<div class="c" style="left:412px;width:22px"><div class="b" style="left:3px"><b>16</b></div></div>
<div class="c" style="left:435px;width:22px"></div>
<div class="c" style="left:458px;width:22px"><div class="b" style="left:3px"><b>18</b></div></div>
<div class="c" style="left:481px;width:22px"></div>
<div class="c" style="left:504px;width:22px"><div class="b" style="left:3px"><b>20</b></div></div>
<div class="c" style="left:527px;width:22px"></div>
<div class="c" style="left:550px;width:22px"></div>
<div class="c" style="left:573px;width:22px"></div>
<div class="c" style="left:596px;width:22px"></div>
<div class="c" style="left:619px;width:22px"></div>
<div class="c" style="left:642px;width:22px"></div>
<div class="c" style="left:665px;width:22px"></div>
<div class="c" style="left:688px;width:22px"></div>
<div class="c" style="left:711px;width:22px"></div>
<div class="c" style="left:734px;width:22px"></div>
<div class="c" style="left:757px;width:22px"></div>
<div class="c" style="left:780px;width:22px"></div>
<div class="c" style="left:803px;width:22px"></div>
<div class="c" style="left:826px;width:22px"></div>
<div class="c" style="left:849px;width:22px"><div class="b g" style="left:2px"><b>35</b></div></div>
<div class="c t rd" style="left:888px;width:59px">35</div>
<div class="c t o" style="left:948px;width:19px">1</div>
<div class="c t rd" style="left:968px;width:89px">19</div>
<div class="c t o" style="left:1058px;width:19px">1</div>
<div class="c t rd" style="left:1078px;width:89px">5<i>,</i>22<i>,</i>29</div>
<div class="c t lt" style="left:1168px;width:19px">3</div>
</div>
<div class="r" style="top:744px">
<div class="c" style="left:9px;width:47px"></div>
<div class="c" style="left:67px;width:22px"></div>
<div class="c" style="left:90px;width:22px"></div>
<div class="c" style="left:113px;width:22px"></div>
<div class="c" style="left:136px;width:22px"></div>
<div class="c" style="left:159px;width:22px"></div>
<div class="c" style="left:182px;width:22px"></div>
<div class="c" style="left:205px;width:22px"></div>
<div class="c" style="left:228px;width:22px"></div>
<div class="c" style="left:251px;width:22px"></div>
<div class="c" style="left:274px;width:22px"></div>
<div class="c" style="left:297px;width:22px"></div>
<div class="c" style="left:320px;width:22px"></div>
<div class="c" style="left:343px;width:22px"></div>
<div class="c" style="left:366px;width:22px"></div>
<div class="c" style="left:389px;width:22px"></div>
<div class="c" style="left:412px;width:22px"></div>
<div class="c" style="left:435px;width:22px"></div>
<div class="c" style="left:458px;width:22px"></div>
<div class="c" style="left:481px;width:22px"></div>
<div class="c" style="left:504px;width:22px"></div>
<div class="c" style="left:527px;width:22px"></div>
<div class="c" style="left:550px;width:22px"></div>
<div class="c" style="left:573px;width:22px"></div>
<div class="c" style="left:596px;width:22px"></div>
<div class="c" style="left:619px;width:22px"></div>
<div class="c" style="left:642px;width:22px"></div>
<div class="c" style="left:665px;width:22px"></div>
<div class="c" style="left:688px;width:22px"></div>
<div class="c" style="left:711px;width:22px"></div>
<div class="c" style="left:734px;width:22px"></div>
<div class="c" style="left:757px;width:22px"></div>
<div class="c" style="left:780px;width:22px"></div>
<div class="c" style="left:803px;width:22px"></div>
<div class="c" style="left:826px;width:22px"></div>
<div class="c" style="left:849px;width:22px"></div>
<div class="c t rd" style="left:888px;width:59px"></div>
<div class="c" style="left:948px;width:19px"></div>
<div class="c t rd" style="left:968px;width:89px"></div>
<div class="c" style="left:1058px;width:19px"></div>
<div class="c t rd" style="left:1078px;width:89px"></div>
<div class="c" style="left:1168px;width:19px"></div>
</div>
<div style="left:0;top:29px;width:1192px;height:24px;background:#fff"></div>
<div class="hd " style="left:9px;width:68px"></div>
<div style="left:78px;top:29px;width:1px;height:23px;background:#c8c8c8"></div>
<div class="hd hn" style="left:80px;width:22px;letter-spacing:0;text-indent:0.3px">1</div>
<div class="hd hn" style="left:103px;width:22px;letter-spacing:0;text-indent:0.3px">2</div>
<div class="hd hn" style="left:126px;width:22px;letter-spacing:0;text-indent:0.3px">3</div>
<div class="hd hn" style="left:149px;width:22px;letter-spacing:0;text-indent:0.3px">4</div>
<div class="hd hn" style="left:172px;width:22px;letter-spacing:0;text-indent:0.3px">5</div>
<div class="hd hn" style="left:195px;width:22px;letter-spacing:0;text-indent:0.3px">6</div>
<div class="hd hn" style="left:218px;width:22px;letter-spacing:0;text-indent:0.3px">7</div>
<div class="hd hn" style="left:241px;width:22px;letter-spacing:0;text-indent:0.3px">8</div>
<div class="hd hn" style="left:264px;width:22px;letter-spacing:0;text-indent:0.3px">9</div>
<div class="hd hn" style="left:287px;width:22px">10</div>
<div class="hd hn" style="left:310px;width:22px">11</div>
<div class="hd hn" style="left:333px;width:22px">12</div>
<div class="hd hn" style="left:356px;width:22px">13</div>
<div class="hd hn" style="left:379px;width:22px">14</div>
<div class="hd hn" style="left:402px;width:22px">15</div>
<div class="hd hn" style="left:425px;width:22px">16</div>
<div class="hd hn" style="left:448px;width:22px">17</div>
<div class="hd hn" style="left:471px;width:22px">18</div>
<div class="hd hn" style="left:494px;width:22px">19</div>
<div class="hd hn" style="left:517px;width:22px">20</div>
<div class="hd hn" style="left:540px;width:22px">21</div>
<div class="hd hn" style="left:563px;width:22px">22</div>
<div class="hd hn" style="left:586px;width:22px">23</div>
<div class="hd hn" style="left:609px;width:22px">24</div>
<div class="hd hn" style="left:632px;width:22px">25</div>
<div class="hd hn" style="left:655px;width:22px">26</div>
<div class="hd hn" style="left:678px;width:22px">27</div>
<div class="hd hn" style="left:701px;width:22px">28</div>
<div class="hd hn" style="left:724px;width:22px">29</div>
<div class="hd hn" style="left:747px;width:22px">30</div>
<div class="hd hn" style="left:770px;width:22px">31</div>
<div class="hd hn" style="left:793px;width:22px">32</div>
<div class="hd hn" style="left:816px;width:22px">33</div>
<div class="hd hn" style="left:839px;width:22px">34</div>
<div class="hd hn" style="left:862px;width:22px">35</div>
<div style="left:885px;top:29px;width:1px;height:23px;background:#c8c8c8"></div>
<div class="hd " style="left:887px;width:59px"></div>
<div class="hd " style="left:947px;width:19px"></div>
<div class="hd " style="left:967px;width:89px"></div>
<div class="hd " style="left:1057px;width:19px"></div>
<div class="hd " style="left:1077px;width:89px"></div>
<div class="hd " style="left:1167px;width:20px"></div>
<svg style="left:0;top:29px" width="1192" height="23" viewBox="0 29 1192 23"><g fill="#3d3346" font-size="12" font-weight="bold" font-family="&quot;Liberation Sans&quot;, &quot;Noto Sans CJK SC&quot;, sans-serif"><text x="890.7" y="45.4" letter-spacing="0.8">实出重号</text><text x="956.4" y="45.4" text-anchor="middle">重</text><text x="985.7" y="45.4" letter-spacing="0.8">实出邻码</text><text x="1066.3" y="45.4" text-anchor="middle">邻</text><text x="1095.7" y="45.4" letter-spacing="0.8">实出孤码</text><text x="1176.9" y="45.4" text-anchor="middle">孤</text><text x="24.5" y="45.4" letter-spacing="0.8">期号</text></g><path fill="#bcbcbc" d="M55.5 32.8 L60 37.8 L57 37.8 L57 39.3 L54.2 39.3 L54.2 37.8 L51 37.8 Z M54.2 41.1 L57 41.1 L57 43.1 L60 43.1 L55.5 48 L51 43.1 L54.2 43.1 Z"/></svg>
<svg style="left:0;top:744px" width="100" height="16" viewBox="0 744 100 16"><text x="10.5" y="759.9" font-size="12" fill="#333" font-family="&quot;Liberation Sans&quot;, &quot;Noto Sans CJK SC&quot;, sans-serif">预选区</text></svg>
<span class="t" style="left:46.3px;top:742.7px;">1</span>
<svg style="left:0;top:0" width="1192" height="760" viewBox="0 0 1192 760"><text x="388" y="691.8" font-size="21.1" fill="#ff2414" font-family="&quot;Liberation Sans&quot;, &quot;Noto Sans CJK SC&quot;, sans-serif">本期重号推荐出1个，防守出0个，邻号出1个，防守出2个</text><path d="M946.3 89.1 L943.5 95.8 L941.6 102.1 L940.2 106.8 L939.4 111.6 L939.4 119.5 L939.6 128.9 L941.6 132.9 L943.8 136.4M1060 79.9 L1057.4 81.5 L1054.7 83.8 L1054.4 86.4 L1050.8 89.4 L1048.2 91.1 L1046.5 94 L1046.5 103.6 L1049.8 104.2 L1053.4 107.8 L1056.1 110.1 L1057.7 112.4M948.4 165 L943.7 165.3 L942.9 168.7 L941.6 170.8 L941.6 180.8 L943.2 182.1 L946.1 182.6 L948.4 184.2M949.5 209.9 L949.2 212.3 L942.8 218.8 L939.3 226.7 L937 234.6 L937 246.4 L940.8 253.3 L946.2 260.2 L946.2 268.1M1058.7 248.9 L1058 254.2 L1052.8 263.4 L1048.2 270 L1046.2 274.6 L1046.2 281.8 L1049.5 283.8 L1053.2 286.1M1057.4 306.6 L1054.7 308.2 L1050.1 314.7 L1045.5 320.7 L1044.9 329.2 L1048.2 331.2 L1052.1 331.8 L1056.1 335.1 L1061.3 336.4M945 403.1 L941.9 403.8 L933.8 408.8 L930 415.6 L926.3 421.9 L926.3 430.6 L930 433.1 L937.5 434.4 L943.1 438.8M1057.8 429.2 L1052.8 429.5 L1050.4 433.6 L1049.5 437.8 L1049.5 446 L1053.3 449.6 L1057.5 451.7 L1061.9 454.6M947.3 459.4 L941.9 459.8 L936.3 463.8 L936.3 473.8 L940 477.5 L945 480.6M948.2 506 L943.8 508.2 L941.6 510.7 L938.5 513.5 L937.4 516.2 L937.4 525.6 L939.9 528.1 L943.2 530 L945.7 532.3 L948.2 532M1059.3 529.1 L1053 529.4 L1047.4 535.2 L1047.4 547.9 L1049.9 549.6 L1054.3 551.2 L1057.1 553.4 L1059.9 554.8 L1062.1 554.5M948.5 702 L943.5 702.4 L937.5 708.4 L929.7 716.7 L928.5 721.3 L928.5 735.1 L930.6 738.8 L933.8 743.4 L937 746.2 L941.2 748 L944.1 750.6M1061.9 677.1 L1055.9 677.4 L1050.4 680.7 L1046.2 685.6 L1042 691.6 L1040.1 697.1 L1038.9 705.5 L1037.1 710.4 L1037.1 733.4 L1038.9 737.6 L1042 742.5 L1046.8 747.9 L1051.9 751.5M958.7 744.8 L958.2 748.9 L956.8 753.5 L955 756.8M1066.4 743.7 L1066.4 757" fill="none" stroke="#ff1414" stroke-width="3" stroke-linecap="round" stroke-linejoin="round"/></svg>
<div style="left:0;top:759px;width:1192px;height:1px;background:#fff"></div>
</div></body></html>
